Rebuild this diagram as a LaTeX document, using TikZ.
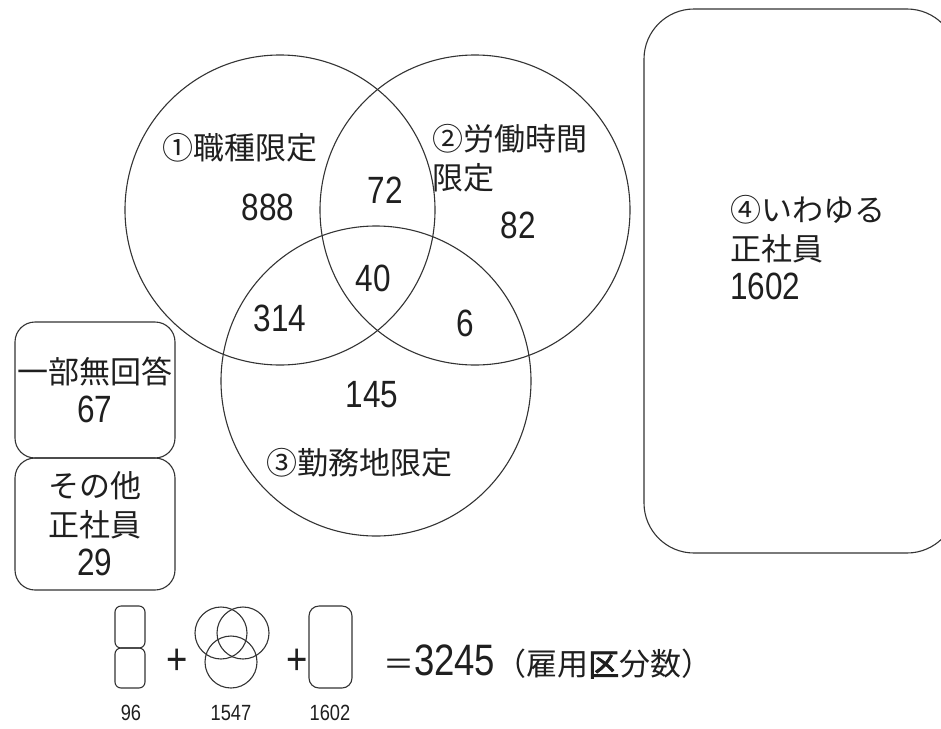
\documentclass[tikz,border=0pt]{standalone}
\usepackage{fontspec}
\setmainfont{Liberation Sans}[FakeStretch=0.83]
\newfontfamily\jpfam{Noto Sans CJK JP}[AutoFakeBold=2.5]
\newcommand\jpt{\jpfam\fontsize{31}{39}\selectfont}
\newcommand\numt{\rmfamily\fontsize{38}{39}\selectfont}
\begin{document}
\begin{tikzpicture}[x=1pt,y=-1pt,
  every node/.style={inner sep=0pt,outer sep=0pt,text=black!88},
  ln/.style={draw=black!80,line width=1.1pt},
  venn/.style={ln,circle,minimum size=310pt},
  sbox/.style={ln,rounded corners=20pt,minimum width=160pt,align=center,font=\numt},
  mini/.style={ln,rounded corners=6pt},
  minic/.style={ln,circle,minimum size=52pt},
  lbl/.style={font=\jpt},
  num/.style={font=\numt},
  small/.style={font=\fontsize{22}{24}\selectfont},
  plus/.style={font=\fontsize{44}{46}\selectfont}]
\useasboundingbox (0,0) rectangle (941,728);
% Venn circles
\node[venn] (c1) at (280,210) {};
\node[venn] (c2) at (475,210) {};
\node[venn] (c3) at (376,381) {};
% labels
\node[lbl] (l1) at (240,148) {①職種限定};
\node[lbl,anchor=west,align=left] (l2) at (432,158) {②労働時間\\限定};
\node[lbl] (l3) at (359,463) {③勤務地限定};
\node[num] (n888) at (268,207) {888};
\node[num] (n72) at (385,190) {72};
\node[num] (n82) at (518,225) {82};
\node[num] (n40) at (373,278) {40};
\node[num] (n314) at (280,318) {314};
\node[num] (n6) at (465,323) {6};
\node[num] (n145) at (372,395) {145};
% left boxes
\node[sbox,minimum height=136pt] (b1) at (95,390) {{\jpt 一部無回答}\\67};
\node[sbox,minimum height=132pt] (b2) at (95,524) {{\jpt その他}\\{\jpt 正社員}\\29};
% right box
\node[ln,rounded corners=50pt,minimum width=313pt,minimum height=544pt] (b4) at (800.5,281) {};
\node[anchor=west,align=left,font=\numt] (t4) at (730,248) {{\jpt ④いわゆる}\\{\jpt 正社員}\\1602};
% bottom equation
\node[mini,minimum width=30pt,minimum height=42pt] (e1a) at (130,627) {};
\node[mini,minimum width=30pt,minimum height=40pt] (e1b) at (130,668) {};
\node[plus] (p1) at (177,662) {+};
\node[minic] (m1) at (221,633) {};
\node[minic] (m2) at (243,633) {};
\node[minic] (m3) at (231,662) {};
\node[plus] (p2) at (297,662) {+};
\node[mini,rounded corners=10pt,minimum width=43pt,minimum height=82pt] (e3) at (330.5,647) {};
\node[anchor=west,font=\fontsize{44}{46}\selectfont] (eq) at (383,662) {{\jpt ＝}3245{\jpt （雇用\textbf{区}分数）}};
\node[small] (s1) at (131,713) {96};
\node[small] (s2) at (231,713) {1547};
\node[small] (s3) at (330,713) {1602};
\end{tikzpicture}
\end{document}
